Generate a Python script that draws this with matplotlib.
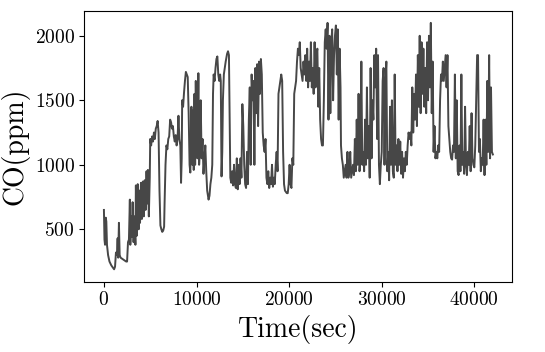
import numpy as np
import matplotlib
matplotlib.use("Agg")
import matplotlib.pyplot as plt

plt.rcParams['font.family'] = 'serif'
plt.rcParams['font.serif'] = ['cmr10']
plt.rcParams['mathtext.fontset'] = 'cm'
plt.rcParams['axes.formatter.use_mathtext'] = True

# CO concentration (time in sec, value in ppm)
time_sec = [
    0, 60, 120, 200, 260, 330, 450, 600, 800, 1000, 1100, 1200, 1300, 1400, 1480, 1540,
    1620, 1700, 1800, 2000, 2200, 2400, 2500, 2600, 2700, 2800, 2850, 2950, 3000, 3100,
    3200, 3300, 3400, 3450, 3550, 3650, 3750, 3850, 3900, 4000, 4100, 4200, 4300, 4400,
    4500, 4600, 4700, 4750, 4850, 4950, 5000, 5100, 5200, 5300, 5400, 5500, 5600, 5700,
    5800, 5900, 6000, 6100, 6200, 6300, 6400, 6500, 6550, 6650, 6750, 6850, 6950, 7050,
    7150, 7250, 7350, 7450, 7550, 7650, 7750, 7850, 7950, 8050, 8150, 8250, 8330, 8400,
    8450, 8550, 8650, 8750, 8850, 8950, 9050, 9150, 9250, 9330, 9400, 9450, 9550, 9620,
    9700, 9780, 9850, 9920, 10000, 10100, 10200, 10280, 10350, 10450, 10550, 10650, 10750,
    10850, 10950, 11050, 11150, 11300, 11400, 11500, 11600, 11700, 11780, 11850, 11950,
    12050, 12150, 12250, 12350, 12450, 12550, 12620, 12700, 12780, 12850, 12950, 13050,
    13150, 13300, 13400, 13500, 13600, 13650, 13750, 13850, 13950, 14050, 14150, 14250,
    14350, 14450, 14550, 14650, 14750, 14850, 14950, 15050, 15150, 15250, 15350, 15450,
    15550, 15650, 15750, 15850, 15950, 16050, 16150, 16250, 16350, 16450, 16550, 16650,
    16750, 16850, 16950, 17050, 17150, 17250, 17350, 17450, 17550, 17650, 17750, 17850,
    17950, 18050, 18150, 18250, 18350, 18450, 18550, 18650, 18750, 18850, 18950, 19050,
    19150, 19250, 19350, 19450, 19550, 19650, 19750, 19850, 19950, 20050, 20150, 20250,
    20350, 20450, 20550, 20650, 20750, 20850, 20950, 21050, 21150, 21250, 21350, 21450,
    21550, 21650, 21750, 21850, 21950, 22050, 22150, 22250, 22350, 22450, 22550, 22650,
    22750, 22850, 22950, 23050, 23150, 23250, 23350, 23450, 23550, 23650, 23750, 23850,
    23950, 24050, 24150, 24250, 24350, 24450, 24550, 24650, 24750, 24850, 24950, 25050,
    25150, 25250, 25350, 25450, 25550, 25600, 25700, 25800, 25900, 26000, 26100, 26200,
    26300, 26400, 26500, 26600, 26700, 26800, 26900, 27000, 27100, 27200, 27300, 27400,
    27500, 27600, 27700, 27800, 27900, 28000, 28100, 28200, 28300, 28400, 28500, 28600,
    28700, 28800, 28900, 29000, 29100, 29200, 29300, 29400, 29500, 29600, 29700, 29800,
    29900, 30000, 30100, 30200, 30300, 30400, 30500, 30600, 30700, 30800, 30900, 31000,
    31100, 31200, 31300, 31400, 31500, 31600, 31700, 31800, 31900, 32000, 32100, 32200,
    32300, 32400, 32500, 32600, 32700, 32800, 32900, 33000, 33100, 33200, 33300, 33400,
    33500, 33600, 33700, 33800, 33900, 34000, 34100, 34200, 34300, 34400, 34500, 34600,
    34700, 34800, 34900, 35000, 35100, 35200, 35300, 35400, 35500, 35600, 35700, 35800,
    35900, 36000, 36100, 36200, 36300, 36400, 36500, 36600, 36700, 36800, 36900, 37000,
    37100, 37200, 37300, 37400, 37500, 37600, 37700, 37800, 37900, 38000, 38100, 38200,
    38300, 38400, 38500, 38600, 38700, 38800, 38900, 39000, 39100, 39200, 39300, 39400,
    39500, 39600, 39700, 39800, 39900, 40000, 40100, 40200, 40300, 40400, 40500, 40600,
    40700, 40800, 40900, 41000, 41100, 41200, 41300, 41400, 41500, 41600, 41700, 41800,
    41900, 42000,
]
co_ppm = [
    650, 420, 380, 590, 560, 380, 300, 250, 220, 200, 190, 210, 320, 300, 430, 280,
    550, 300, 280, 270, 260, 250, 250, 400, 420, 730, 380, 600, 440, 710,
    400, 600, 380, 840, 450, 850, 500, 800, 550, 860, 580, 870, 600, 880,
    650, 950, 700, 960, 600, 900, 1200, 1150, 1220, 1180, 1250, 1200, 1280, 1300,
    1340, 1250, 800, 530, 500, 480, 490, 520, 700, 1000, 1150, 1120, 1200, 1220,
    1350, 1330, 1280, 1300, 1220, 1180, 1230, 1150, 1200, 1380, 1200, 1150, 860, 1050,
    1500, 1450, 1560, 1650, 1720, 1700, 1680, 1400, 1000, 940, 1200, 1450, 1000, 1420,
    960, 1550, 1000, 1650, 1150, 1050, 1710, 1000, 1100, 1500, 1050, 1200, 930,
    1050, 1150, 950, 800, 730, 760, 850, 900, 1000, 1550, 1700, 1650,
    1750, 1820, 1840, 1700, 1650, 1700, 1650, 910, 1100, 1500, 1700, 1750,
    1800, 1860, 1880, 1850, 1200, 900, 860, 950, 840, 1000, 850, 820,
    1050, 810, 1000, 850, 1050, 900, 1470, 1300, 1000, 850, 820, 1100,
    850, 1350, 1600, 1000, 1700, 1500, 1650, 1000, 1750, 1400, 1780, 1300,
    1800, 1550, 1820, 1700, 1250, 1150, 1100, 1200, 900, 850, 950, 820,
    900, 850, 1000, 830, 900, 850, 1000, 1100, 950, 1550, 1600, 1650,
    1700, 1650, 1100, 850, 800, 790, 780, 780, 850, 1000, 850, 820,
    1050, 1000, 1550, 1600, 1650, 1800, 1900, 1850, 1950, 1750, 1700, 1650,
    1800, 1700, 1850, 1650, 1900, 1600, 1800, 1650, 1950, 1600, 1750, 1550,
    1950, 1600, 1850, 1900, 1450, 1750, 1350, 1200, 1150, 1150, 1500, 1950,
    2050, 1900, 2100, 1350, 2000, 1400, 1950, 2050, 1500, 1850, 2000, 2080,
    1700, 2050, 1350, 1900, 1600, 1150, 1050, 1000, 900, 950, 1000, 900,
    1100, 900, 950, 1100, 900, 950, 1000, 920, 1200, 950, 1350, 1000,
    1550, 950, 1050, 1800, 1000, 1100, 950, 1350, 1000, 1600, 1050, 1300,
    900, 1750, 1050, 1500, 1350, 1850, 1600, 1900, 1200, 1850, 1000, 850,
    1000, 1100, 1650, 1750, 1000, 1650, 1800, 950, 1100, 880, 1450, 1000,
    1500, 950, 900, 1700, 1000, 1150, 950, 1200, 1000, 1180, 930, 1100,
    900, 1050, 950, 1100, 1000, 1150, 1250, 1200, 1250, 1150, 1600, 1250,
    1550, 1350, 1700, 1300, 1850, 1450, 2000, 1400, 1950, 1550, 1900, 1450,
    1750, 1400, 1950, 1500, 2000, 1600, 2100, 1400, 1800, 1100, 1300, 1050,
    1100, 1050, 1150, 1100, 1500, 1700, 1650, 1800, 1650, 1750, 1850, 1600,
    1850, 1300, 1200, 1100, 1050, 1040, 1150, 1100, 1700, 1050, 1500, 950,
    920, 1150, 950, 1700, 1000, 1100, 930, 1450, 1000, 920, 1100, 1000,
    1300, 950, 1400, 1050, 1000, 980, 1150, 1500, 1850, 1850, 1100, 1200,
    950, 1050, 1000, 1350, 920, 1350, 1000, 1650, 1100, 1850, 1050, 1600,
    1100, 1080,
]

fig, ax = plt.subplots(figsize=(5.45, 3.52), dpi=100)
fig.subplots_adjust(left=0.155, right=0.94, top=0.97, bottom=0.2)

ax.plot(time_sec, co_ppm, color='#474747', linewidth=1.4)
ax.set_xlabel('Time(sec)', fontsize=20)
ax.set_ylabel('CO(ppm)', fontsize=20)
ax.tick_params(labelsize=14)

fig.savefig('out.png', dpi=100)
